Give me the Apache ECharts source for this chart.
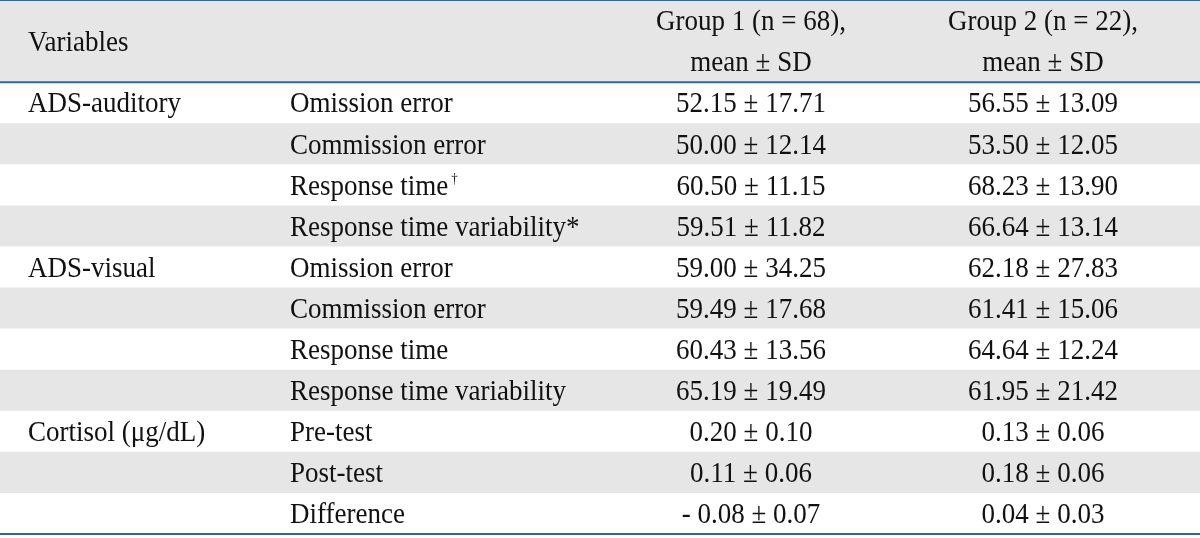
<!DOCTYPE html>
<html>
<head>
<meta charset="utf-8">
<script src="https://cdn.jsdelivr.net/npm/echarts@6/dist/echarts.min.js"></script>
<style>
  html, body { margin: 0; padding: 0; background: #fff; }
  #chart { width: 1200px; height: 538px; }
</style>
</head>
<body>
<div id="chart"></div>
<script>
// table contents
var groups = ['ADS-auditory', '', '', '', 'ADS-visual', '', '', '', 'Cortisol (\u03bcg/dL)', '', ''];
var measures = ['Omission error', 'Commission error', 'Response time', 'Response time variability*',
  'Omission error', 'Commission error', 'Response time', 'Response time variability',
  'Pre-test', 'Post-test', 'Difference'];
var footMarks = ['', '', '\u2020', '', '', '', '', '', '', '', ''];
var g1Mean = [52.15, 50.00, 60.50, 59.51, 59.00, 59.49, 60.43, 65.19, 0.20, 0.11, -0.08];
var g1Sd = [17.71, 12.14, 11.15, 11.82, 34.25, 17.68, 13.56, 19.49, 0.10, 0.06, 0.07];
var g2Mean = [56.55, 53.50, 68.23, 66.64, 62.18, 61.41, 64.64, 61.95, 0.13, 0.18, 0.04];
var g2Sd = [13.09, 12.05, 13.90, 13.14, 27.83, 15.06, 12.24, 21.42, 0.06, 0.06, 0.03];
var headFirst = 'Variables';
var headGroups = ['Group 1 (n = 68),', 'Group 2 (n = 22),'];
var headStat = 'mean \u00b1 SD';

var FONT = '"Liberation Serif", "Times New Roman", serif';
var TEXT = '#111';
var GREY = '#e6e6e6';
var RULE = '#33679a';
var COL = { group: 28, measure: 290, g1: 751, g2: 1043 };

// two header slots + one slot per body row
var slots = ['h1', 'h2'].concat(measures.map(function (m, i) { return 'r' + i; }));

function fmt(v) {
  var s = Math.abs(v).toFixed(2);
  return v < 0 ? '- ' + s : s;
}

var cells = [];
cells.push({ x: COL.group, slot: 0, span: 2, text: headFirst, align: 'left' });
cells.push({ x: COL.g1, slot: 0, text: headGroups[0], align: 'center' });
cells.push({ x: COL.g2, slot: 0, text: headGroups[1], align: 'center' });
cells.push({ x: COL.g1, slot: 1, text: headStat, align: 'center' });
cells.push({ x: COL.g2, slot: 1, text: headStat, align: 'center' });
measures.forEach(function (m, i) {
  var s = i + 2;
  if (groups[i]) cells.push({ x: COL.group, slot: s, text: groups[i], align: 'left' });
  cells.push({ x: COL.measure, slot: s, text: footMarks[i] ? m + '{sup|' + footMarks[i] + '}' : m, align: 'left' });
  cells.push({ x: COL.g1, slot: s, text: fmt(g1Mean[i]) + ' \u00b1 ' + fmt(g1Sd[i]), align: 'center' });
  cells.push({ x: COL.g2, slot: s, text: fmt(g2Mean[i]) + ' \u00b1 ' + fmt(g2Sd[i]), align: 'center' });
});

// shaded rows: header block and every other body row
var stripes = [{ slot: 0, span: 2 }];
measures.forEach(function (m, i) { if (i % 2 === 1) stripes.push({ slot: i + 2, span: 1 }); });

// horizontal rules: top, below header, bottom
var rules = [{ slot: 0, edge: 'top' }, { slot: 2, edge: 'top' }, { slot: slots.length - 1, edge: 'bottom' }];

var chart = echarts.init(document.getElementById('chart'));
chart.setOption({
  animation: false,
  grid: { left: 0, right: 0, top: 0, bottom: 4 },
  xAxis: { type: 'value', min: 0, max: 1200, show: false },
  yAxis: { type: 'category', data: slots, inverse: true, show: false },
  series: [
    {
      type: 'custom',
      silent: true,
      data: stripes.map(function (d) { return [0, d.slot]; }),
      renderItem: function (params, api) {
        var d = stripes[params.dataIndex];
        var p = api.coord([0, api.value(1)]);
        var h = api.size([0, 1])[1];
        return {
          type: 'rect',
          shape: { x: params.coordSys.x, y: p[1] - h / 2, width: params.coordSys.width, height: h * d.span },
          style: { fill: GREY }
        };
      }
    },
    {
      type: 'custom',
      silent: true,
      data: rules.map(function (d) { return [0, d.slot]; }),
      renderItem: function (params, api) {
        var d = rules[params.dataIndex];
        var p = api.coord([0, api.value(1)]);
        var h = api.size([0, 1])[1];
        var y = d.edge === 'top' ? p[1] - h / 2 : p[1] + h / 2;
        return {
          type: 'rect',
          shape: { x: params.coordSys.x, y: y - 1, width: params.coordSys.width, height: 2 },
          style: { fill: RULE }
        };
      },
      z: 3
    },
    {
      type: 'custom',
      silent: true,
      data: cells.map(function (c) { return [c.x, c.slot]; }),
      renderItem: function (params, api) {
        var c = cells[params.dataIndex];
        var p = api.coord([api.value(0), api.value(1)]);
        var h = api.size([0, 1])[1];
        var y = p[1] + 2 + (c.span ? (c.span - 1) * h / 2 : 0);
        return {
          type: 'text',
          x: p[0],
          y: y,
          scaleY: 1.09,
          style: {
            text: c.text,
            fill: TEXT,
            fontSize: 27,
            fontFamily: FONT,
            align: c.align,
            verticalAlign: 'middle',
            rich: {
              sup: { fontSize: 13, fontFamily: FONT, fill: TEXT, verticalAlign: 'top', padding: [0, 0, 14, 3] }
            }
          }
        };
      },
      z: 4
    }
  ]
});
</script>
</body>
</html>
